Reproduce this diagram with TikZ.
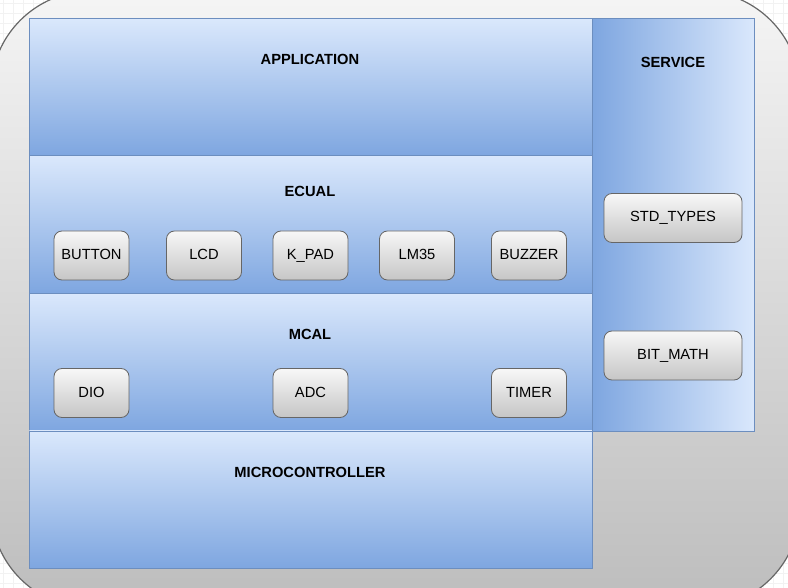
\documentclass[tikz,border=0pt]{standalone}
\usepackage{fontspec}
\setmainfont{Liberation Sans}
\usepackage{tikz}
\usetikzlibrary{positioning, shapes, calc}

\definecolor{layerlight}{HTML}{DAE8FC}
\definecolor{layerdark}{HTML}{7EA6E0}
\definecolor{layerline}{HTML}{6C8EBF}
\definecolor{modline}{HTML}{666666}

\begin{document}
\begin{tikzpicture}[
x=1pt, y=-1pt,
    gridline/.style = {draw=gray!10, line width=0.6pt},
    board/.style = {draw=modline, line width=1.2pt, rounded corners=100pt,
        top color=gray!8, bottom color=gray!52},
    layer/.style = {rectangle, draw=layerline, line width=0.8pt, inner sep=0pt,
        anchor=north west, minimum width=563pt, minimum height=137.5pt,
        top color=layerlight, bottom color=layerdark},
    sidelayer/.style = {rectangle, draw=layerline, line width=0.8pt, inner sep=0pt,
        anchor=north west, minimum width=162pt, minimum height=413pt,
        left color=layerdark, right color=layerlight},
    title/.style = {font=\fontsize{14.7}{17}\selectfont\bfseries},
    module/.style = {rectangle, rounded corners=8pt, draw=modline, line width=0.8pt,
        minimum width=75pt, minimum height=49pt, inner sep=0pt,
        text height=10.5pt, text depth=2.5pt,
        top color=gray!6, bottom color=gray!45,
        font=\fontsize{14.7}{17}\selectfont},
    widemodule/.style = {module, minimum width=138pt},
]

\useasboundingbox (0,0) rectangle (788,588);
\clip (0,0) rectangle (788,588);

% background grid
\fill[white] (0,0) rectangle (788,588);
\foreach \g in {3,13,...,788} \draw[gridline] (\g,0) -- (\g,588);
\foreach \g in {3,13,...,588} \draw[gridline] (0,\g) -- (788,\g);

\path[board] (-9,-9) rectangle (800,608);

% layers
\node[layer] (App)  at (29,18)    {};
\node[layer] (Ecu)  at (29,155.5) {};
\node[layer] (Mcal) at (29,293)   {};
\node[layer] (Mcu)  at (29,430.5) {};
\node[sidelayer] (Srv) at (592,18) {};

\node[title] (AppT)  at (310,59)  {APPLICATION};
\node[title] (EcuT)  at (310,191) {ECUAL};
\node[title] (McalT) at (310,334) {MCAL};
\node[title] (McuT)  at (310,472) {MICROCONTROLLER};
\node[title] (SrvT)  at (673,62)  {SERVICE};

% ECUAL modules
\node[module] (Button) at (91.5,255.5) {BUTTON};
\node[module] (Lcd)    at (204,255.5)  {LCD};
\node[module] (Kpad)   at (310.5,255.5){K\_PAD};
\node[module] (Lm)     at (417,255.5)  {LM35};
\node[module] (Buzzer) at (529,255.5)  {BUZZER};

% MCAL modules
\node[module] (Dio)   at (91.5,393)  {DIO};
\node[module] (Adc)   at (310.5,393) {ADC};
\node[module] (Timer) at (529,393)   {TIMER};

% service modules
\node[widemodule] (Std) at (673,218)   {STD\_TYPES};
\node[widemodule] (Bit) at (673,355.5) {BIT\_MATH};

\end{tikzpicture}
\end{document}
